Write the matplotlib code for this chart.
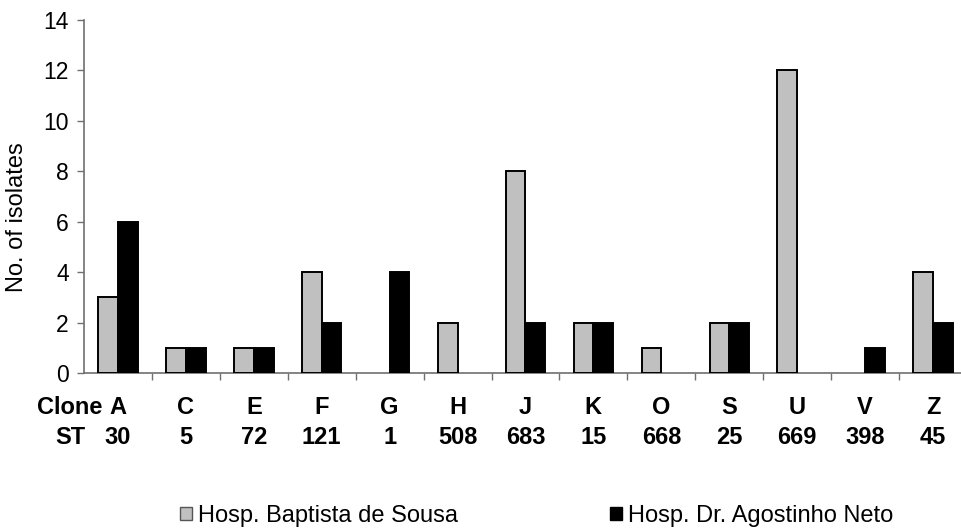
import matplotlib
matplotlib.use("Agg")
import matplotlib.pyplot as plt
from matplotlib.patches import Patch
from matplotlib.transforms import blended_transform_factory
import numpy as np

# Clone / sequence type labels and isolate counts per hospital
clones = ["A", "C", "E", "F", "G", "H", "J", "K", "O", "S", "U", "V", "Z"]
st_types = ["30", "5", "72", "121", "1", "508", "683", "15", "668", "25", "669", "398", "45"]
baptista = [3, 1, 1, 4, 0, 2, 8, 2, 1, 2, 12, 0, 4]
agostinho = [6, 1, 1, 2, 4, 0, 2, 2, 0, 2, 0, 1, 2]
series_names = ["Hosp. Baptista de Sousa", "Hosp. Dr. Agostinho Neto"]
series_colors = ["#c0c0c0", "black"]

plt.rcParams["font.family"] = ["Liberation Sans", "DejaVu Sans"]

W, H = 962, 529
fig = plt.figure(figsize=(W / 100, H / 100), dpi=100)
ax = fig.add_axes([84 / W, 1 - 373 / H, (967 - 84) / W, (373 - 20) / H])

x = np.arange(len(clones))
bw = 0.29
for offset, vals, col in ((-bw / 2, baptista, series_colors[0]), (bw / 2, agostinho, series_colors[1])):
    vals = np.asarray(vals)
    lw = np.where(vals > 0, 1.4, 0.0)
    ax.bar(x + offset, vals, width=bw, color=col, edgecolor="black", linewidth=lw, zorder=3)

ax.set_xlim(-0.5, len(clones) - 0.5)
ax.set_ylim(0, 14)
ax.set_yticks(range(0, 15, 2))
ax.set_xticks(np.arange(0.5, len(clones) - 0.5, 1))
ax.set_xticklabels([])

spine_color = "#707070"
for side in ("top", "right"):
    ax.spines[side].set_visible(False)
for side in ("left", "bottom"):
    ax.spines[side].set_color(spine_color)
    ax.spines[side].set_linewidth(1.2)
ax.tick_params(axis="y", direction="out", length=5, width=1.0, color=spine_color,
               labelsize=16.5, pad=6)
ax.tick_params(axis="x", direction="out", length=5, width=1.0, color=spine_color)
fig.text(17.5 / W, 1 - 217.5 / H, "No. of isolates", rotation=90, ha="center", va="center",
         fontsize=17)

trans = blended_transform_factory(ax.transData, fig.transFigure)
row1 = 1 - 408 / H
row2 = 1 - 437 / H
for i, (c, s) in enumerate(zip(clones, st_types)):
    ax.text(i, row1, c, transform=trans, ha="center", va="center", fontsize=17, fontweight="bold")
    ax.text(i, row2, s, transform=trans, ha="center", va="center", fontsize=17, fontweight="bold")
fig.text(70 / W, row1, "Clone", ha="center", va="center", fontsize=17, fontweight="bold")
fig.text(70 / W, row2, "ST", ha="center", va="center", fontsize=17, fontweight="bold")

# One legend entry per hospital, placed side by side under the axis labels
edge_colors = ["#555555", "black"]
for name, col, ec, left in zip(series_names, series_colors, edge_colors, (180, 610)):
    fig.legend([Patch(facecolor=col, edgecolor=ec, linewidth=1.0)], [name],
               loc="center left", bbox_to_anchor=(left / W, 1 - 516 / H),
               frameon=False, fontsize=17, handlelength=0.5, handleheight=0.5,
               handletextpad=0.25, borderaxespad=0, borderpad=0)

fig.savefig("out.png", dpi=100)
